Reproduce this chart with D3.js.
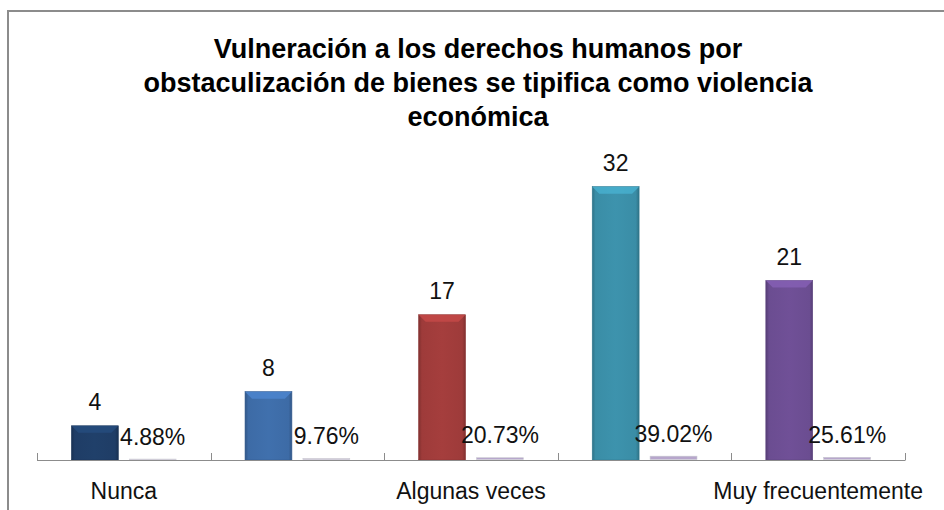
<!DOCTYPE html>
<html>
<head>
<meta charset="utf-8">
<script src="https://cdn.jsdelivr.net/npm/d3@7"></script>
<style>
  html, body { margin: 0; padding: 0; background: #fff; }
  svg { display: block; }
</style>
</head>
<body>
<svg id="chart" width="944" height="510"></svg>
<script>
// ---- data ----
const titleLines = [
  "Vulneración a los derechos humanos por",
  "obstaculización de bienes se tipifica como violencia",
  "económica"
];
const categories = ["Nunca", "Casi nunca", "Algunas veces", "Frecuentemente", "Muy frecuentemente"];
const counts = [4, 8, 17, 32, 21];
const percents = [0.0488, 0.0976, 0.2073, 0.3902, 0.2561];
const percentLabels = ["4.88%", "9.76%", "20.73%", "39.02%", "25.61%"];
const countColors = ["#1F3D66", "#3D6BA6", "#9E3B3A", "#3A8DA6", "#6B4D91"];
const pctColor = "#B7A6CC";

// ---- layout ----
const svg = d3.select("#chart");
const plot = { left: 37, right: 905, top: 161, bottom: 460 };
const font = "'Liberation Sans', Arial, sans-serif";

// chart frame (extends beyond right/bottom edges like the reference crop)
svg.append("rect")
  .attr("x", 8).attr("y", 11).attr("width", 1000).attr("height", 600)
  .attr("fill", "#fff").attr("stroke", "#8c8c8c").attr("stroke-width", 2);

// title
const title = svg.append("text")
  .attr("text-anchor", "middle")
  .attr("font-family", font).attr("font-weight", "bold")
  .attr("font-size", 27).attr("fill", "#000");
titleLines.forEach((t, i) => {
  title.append("tspan").attr("x", 478).attr("y", 58 + i * 34).text(t);
});

// scales
const x = d3.scaleBand().domain(categories).range([plot.left, plot.right]).padding(0);
const series = ["count", "pct"];
const xi = d3.scaleBand().domain(series).range([0, x.bandwidth()])
  .paddingInner(0.19).paddingOuter(0.595);
const y = d3.scaleLinear().domain([0, 35]).range([plot.bottom, plot.top]);

// gradients for bevel look
const defs = svg.append("defs");
countColors.forEach((c, i) => {
  const g = defs.append("linearGradient").attr("id", "g" + i)
    .attr("x1", 0).attr("x2", 1).attr("y1", 0).attr("y2", 0);
  const dark = d3.color(c).darker(0.6).formatHex();
  const light = d3.color(c).brighter(0.12).formatHex();
  g.append("stop").attr("offset", 0).attr("stop-color", dark);
  g.append("stop").attr("offset", 0.07).attr("stop-color", c);
  g.append("stop").attr("offset", 0.5).attr("stop-color", light);
  g.append("stop").attr("offset", 0.93).attr("stop-color", c);
  g.append("stop").attr("offset", 1).attr("stop-color", dark);
});

const data = categories.map((c, i) => ({
  cat: c, count: counts[i], pct: percents[i], pctLabel: percentLabels[i], i
}));

// count bars
const bars = svg.append("g");
data.forEach(d => {
  const bx = x(d.cat) + xi("count"), bw = xi.bandwidth();
  const top = y(d.count), h = y(0) - top;
  const b = 7;
  bars.append("rect")
    .attr("x", bx).attr("y", top).attr("width", bw).attr("height", h)
    .attr("fill", `url(#g${d.i})`)
    .attr("stroke", d3.color(countColors[d.i]).darker(0.4).formatHex())
    .attr("stroke-width", 0.6);
  bars.append("polygon")
    .attr("points", [[bx, top], [bx + bw, top], [bx + bw - b, top + b], [bx + b, top + b]].join(" "))
    .attr("fill", d3.color(countColors[d.i]).brighter(0.6).formatHex())
    .attr("opacity", 0.85);
});

// percentage bars (same axis, therefore tiny)
data.forEach(d => {
  const bx = x(d.cat) + xi("pct"), bw = xi.bandwidth();
  const top = y(d.pct), h = Math.max(0.5, y(0) - top);
  bars.append("rect")
    .attr("x", bx).attr("y", top - 0.5).attr("width", bw).attr("height", h)
    .attr("fill", pctColor).attr("stroke", "#c8c8d0").attr("stroke-width", 0.6);
});

// axis line + ticks at band boundaries
const axisG = svg.append("g");
axisG.append("line")
  .attr("x1", plot.left).attr("x2", plot.right)
  .attr("y1", plot.bottom + 0.5).attr("y2", plot.bottom + 0.5)
  .attr("stroke", "#8c8c8c").attr("stroke-width", 1.2);
const tickXs = categories.map(c => x(c)).concat([x(categories[categories.length - 1]) + x.bandwidth()]);
tickXs.forEach(tx => {
  axisG.append("line")
    .attr("x1", Math.round(tx) + 0.5).attr("x2", Math.round(tx) + 0.5)
    .attr("y1", plot.bottom - 7).attr("y2", plot.bottom + 0.5)
    .attr("stroke", "#8c8c8c").attr("stroke-width", 1);
});

// category labels (every other one shown, as in the reference)
const xAxis = d3.axisBottom(x).tickSize(0).tickPadding(0)
  .tickFormat((c, i) => (i % 2 === 0 ? c : ""));
const ax = svg.append("g").attr("transform", `translate(0,${plot.bottom})`).call(xAxis);
ax.select(".domain").remove();
ax.selectAll("text")
  .attr("font-family", font).attr("font-size", 23).attr("fill", "#111")
  .attr("dy", null).attr("y", 39);

// value labels
const lab = svg.append("g").attr("font-family", font).attr("font-size", 23)
  .attr("fill", "#111").attr("text-anchor", "middle");
data.forEach(d => {
  lab.append("text")
    .attr("x", x(d.cat) + xi("count") + xi.bandwidth() / 2)
    .attr("y", y(d.count) - 16)
    .text(d.count);
  lab.append("text")
    .attr("x", x(d.cat) + xi("pct") + xi.bandwidth() / 2)
    .attr("y", y(d.pct) - 15)
    .text(d.pctLabel);
});
</script>
</body>
</html>
